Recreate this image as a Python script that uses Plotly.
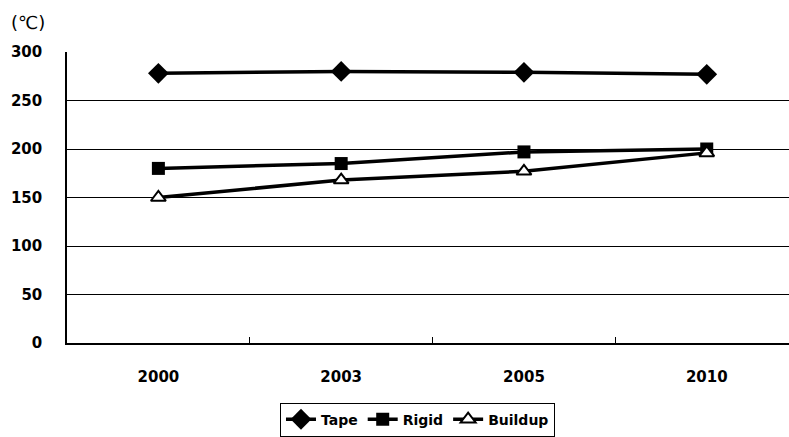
import plotly.graph_objects as go

# Categories and series values (°C)
years = ["2000", "2003", "2005", "2010"]
tape = [278, 280, 279, 277]
rigid = [180, 185, 197, 200]
buildup = [150, 168, 177, 196]

y_ticks = [0, 50, 100, 150, 200, 250, 300]

FONT = "DejaVu Sans"

fig = go.Figure()

series = [
    ("Tape", tape, dict(symbol="diamond", size=16, color="black")),
    ("Rigid", rigid, dict(symbol="square", size=13, color="black")),
    ("Buildup", buildup, dict(symbol="triangle-up", size=13, color="white",
                              line=dict(color="black", width=2))),
]
for name, vals, marker in series:
    fig.add_trace(go.Scatter(
        x=years, y=vals, name=name, mode="lines+markers",
        line=dict(color="black", width=3.5),
        marker=marker,
        cliponaxis=False,
    ))

fig.update_layout(
    width=789, height=437,
    margin=dict(l=67, r=0, t=52, b=92),
    paper_bgcolor="white", plot_bgcolor="white",
    font=dict(family=FONT, size=14, color="black"),
    showlegend=True,
    legend=dict(
        orientation="h", x=0.295, xanchor="left", y=-0.205, yanchor="top",
        bordercolor="black", borderwidth=1, bgcolor="white",
        font=dict(family=FONT, size=14, color="black", weight="bold"),
        itemwidth=30, tracegroupgap=0,
    ),
    annotations=[dict(
        text="(℃)", xref="paper", yref="paper",
        x=-0.08, xanchor="left", y=1.10, yanchor="middle",
        showarrow=False, font=dict(family=FONT, size=18, color="black"),
    )],
)

fig.update_xaxes(
    type="category", range=[-0.5, 3.45],
    showline=True, linecolor="black", linewidth=1.5,
    showgrid=False, ticks="inside", tickson="boundaries",
    ticklen=6, tickcolor="black", tickwidth=1,
    tickfont=dict(family=FONT, size=15, color="black", weight="bold"),
    ticklabelstandoff=19,
)
fig.update_yaxes(
    range=[0, 300], tickvals=y_ticks,
    showline=True, linecolor="black", linewidth=1.5,
    showgrid=True, gridcolor="black", gridwidth=1,
    zeroline=False, ticks="",
    tickfont=dict(family=FONT, size=15, color="black", weight="bold"),
    ticklabelstandoff=20,
)

fig.write_html("out.html")
